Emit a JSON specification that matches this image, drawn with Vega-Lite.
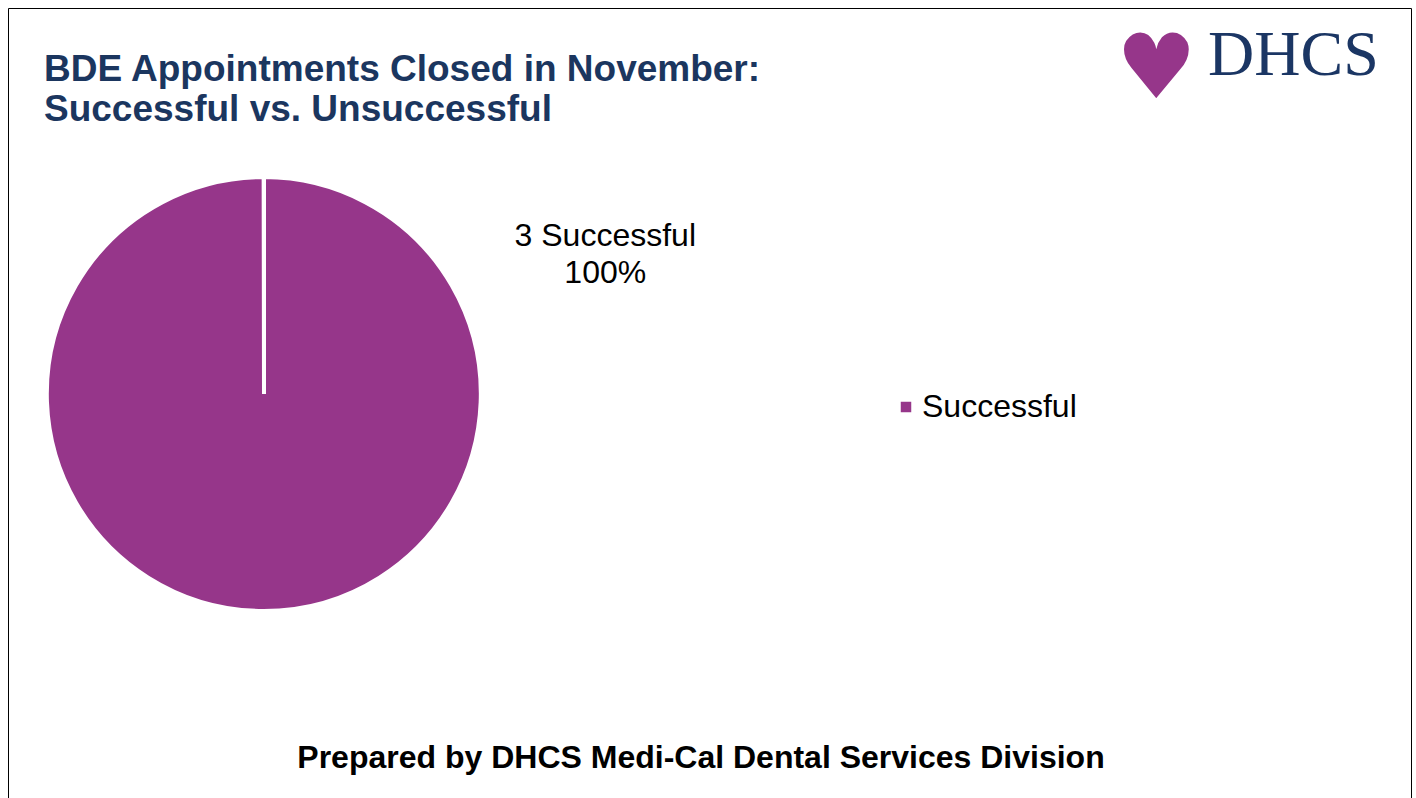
{
  "$schema": "https://vega.github.io/schema/vega-lite/v6.json",
  "background": "white",
  "padding": {"left": 7, "top": 7, "right": 0, "bottom": 0},
  "bounds": "flush",
  "title": {
    "text": ["BDE Appointments Closed in November:", "Successful vs. Unsuccessful"],
    "anchor": "start",
    "frame": "group",
    "dx": -5,
    "font": "Liberation Sans",
    "fontSize": 37,
    "fontWeight": "bold",
    "color": "#1B365F",
    "lineHeight": 40,
    "offset": -121
  },
  "vconcat": [
    {
      "bounds": "flush",
      "title": {
        "text": "♥",
        "orient": "bottom",
        "anchor": "start",
        "frame": "group",
        "font": "DejaVu Sans",
        "fontSize": 90,
        "color": "#96368A",
        "dx": 1067,
        "dy": -747,
        "offset": 0
      },
      "vconcat": [
        {
          "bounds": "flush",
          "title": {
            "text": "DHCS",
            "orient": "bottom",
            "anchor": "start",
            "frame": "group",
            "font": "Liberation Serif",
            "fontSize": 64,
            "fontWeight": "normal",
            "color": "#1B3664",
            "dx": 1159,
            "dy": -750,
            "offset": 0
          },
          "vconcat": [
            {
              "width": 430,
              "height": 430,
              "title": {
                "text": "Prepared by DHCS Medi-Cal Dental Services Division",
                "orient": "bottom",
                "anchor": "middle",
                "frame": "group",
                "dx": 437,
                "offset": 130,
                "font": "Liberation Sans",
                "fontSize": 32,
                "fontWeight": "bold",
                "color": "black"
              },
              "data": {"values": [{"category": "Successful", "count": 3, "label": "3 Successful\n100%"}]},
              "layer": [
                {
                  "mark": {"type": "arc", "stroke": "white", "strokeWidth": 4, "outerRadius": 217, "strokeJoin": "bevel"},
                  "encoding": {
                    "theta": {"field": "count", "type": "quantitative", "scale": {"range": [0, 6.2815]}},
                    "color": {
                      "field": "category",
                      "type": "nominal",
                      "scale": {"range": ["#96368A"]},
                      "legend": {
                        "orient": "none",
                        "legendX": 841,
                        "legendY": 212,
                        "title": null,
                        "padding": 0,
                        "symbolType": "square",
                        "symbolSize": 110,
                        "symbolStrokeWidth": 0,
                        "labelFont": "Liberation Sans",
                        "labelFontSize": 32,
                        "labelColor": "black",
                        "labelOffset": 0
                      }
                    }
                  }
                },
                {
                  "mark": {
                    "type": "text",
                    "theta": 1.1376,
                    "radius": 376,
                    "lineBreak": "\n",
                    "lineHeight": 37,
                    "align": "center",
                    "baseline": "middle",
                    "font": "Liberation Sans",
                    "fontSize": 32,
                    "color": "black"
                  },
                  "encoding": {
                    "text": {"field": "label", "type": "nominal"},
                    "opacity": {
                      "field": "label",
                      "type": "ordinal",
                      "scale": {"range": [1]},
                      "legend": {
                        "orient": "none",
                        "legendX": -41,
                        "legendY": -171,
                        "title": null,
                        "padding": 701,
                        "strokeColor": "black",
                        "symbolSize": 0,
                        "symbolOpacity": 0,
                        "symbolStrokeWidth": 0,
                        "labelExpr": "''",
                        "labelOffset": 0,
                        "labelFontSize": 1
                      }
                    }
                  }
                }
              ]
            }
          ]
        }
      ]
    }
  ],
  "config": {"view": {"stroke": null}}
}
